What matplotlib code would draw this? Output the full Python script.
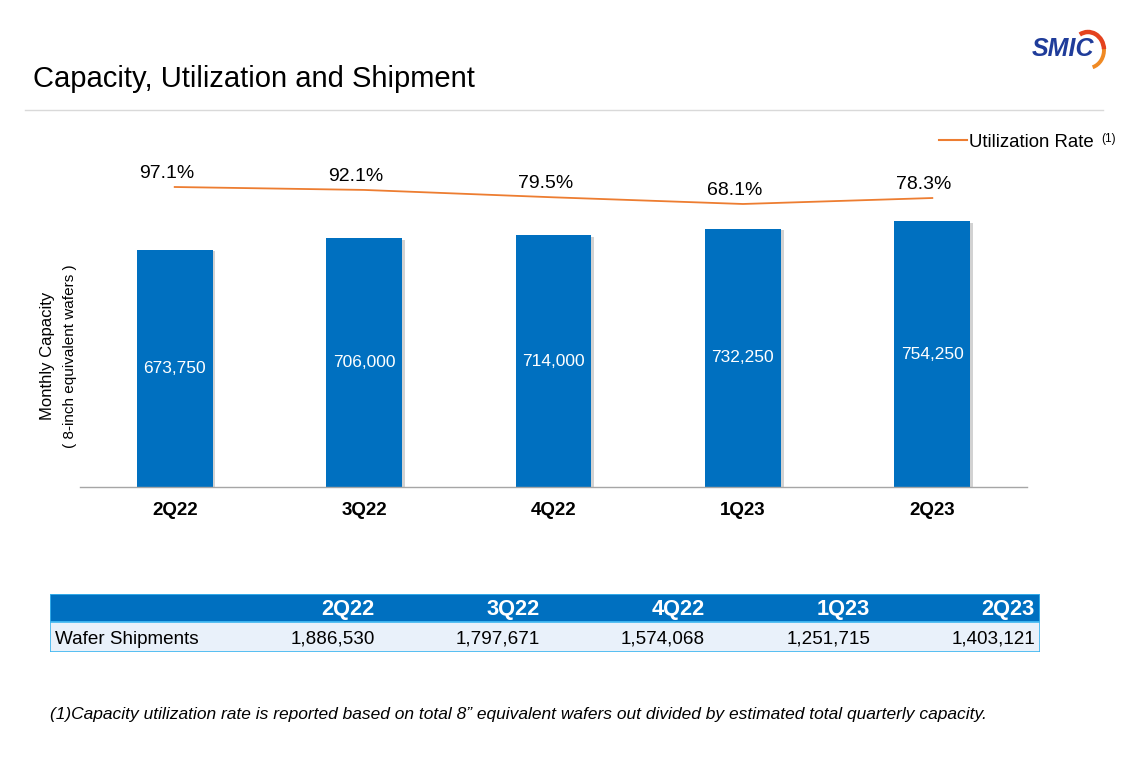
import numpy as np
import matplotlib
matplotlib.use('Agg')
from matplotlib import pyplot as plt
from matplotlib.patches import Rectangle, Arc
from matplotlib.lines import Line2D
import matplotlib.patheffects as pe

plt.rcParams['font.family'] = ['Liberation Sans', 'DejaVu Sans']

### data
quarters = ['2Q22', '3Q22', '4Q22', '1Q23', '2Q23']
capacity = [673750, 706000, 714000, 732250, 754250]
utilization = [97.1, 92.1, 79.5, 68.1, 78.3]
shipments = [1886530, 1797671, 1574068, 1251715, 1403121]

blue = '#0070C0'
orange = '#ED7D31'
W, H = 1121, 784

def fx(px):
    return px / W

def fy(py):
    return 1 - py / H

fig = plt.figure(figsize=(11.21, 7.84), dpi=100)

### header: title, rule, logo
fig.text(fx(33), fy(79), 'Capacity, Utilization and Shipment', fontsize=21,
         va='center', ha='left', color='black')
fig.add_artist(Line2D([fx(25), fx(1103)], [fy(110), fy(110)], color='#D9D9D9', lw=1))
fig.text(fx(1063), fy(49), 'SMIC', fontsize=18, fontweight='heavy', style='italic',
         color='#1F3C9A', ha='center', va='center')
logo = fig.add_axes([fx(1060), fy(76), fx(50), 52 / H])
logo.set_xlim(1060, 1110)
logo.set_ylim(76, 24)
logo.axis('off')
logo.add_patch(Arc((1088, 50), 32, 36, theta1=-5, theta2=75, color='#F08A24', lw=2.8))
logo.add_patch(Arc((1088, 50), 32, 36, theta1=-118, theta2=-3, color='#E4421E', lw=3.2))

### bar chart
ax = fig.add_axes([fx(80), fy(487), fx(947), (487 - 130) / H])
x = np.arange(len(quarters))
bars = ax.bar(x, capacity, width=0.40, color=blue, zorder=2)
for b in bars:
    b.set_path_effects([pe.SimplePatchShadow(offset=(2, -1), shadow_rgbFace='#7F7F7F', alpha=0.35),
                        pe.Normal()])
for i, v in enumerate(capacity):
    ax.text(x[i], v / 2, f'{v:,}', color='white', fontsize=12.5, ha='center', va='center', zorder=3)
ax.set_xlim(-0.5, len(quarters) - 0.5)
ax.set_ylim(0, 1.013e6)
ax.set_xticks(x)
ax.set_xticklabels(quarters, fontsize=13.5, fontweight='bold')
ax.tick_params(axis='x', length=0, pad=11)
ax.set_yticks([])
for s in ['top', 'right', 'left']:
    ax.spines[s].set_visible(False)
ax.spines['bottom'].set_color('#A6A6A6')
ax.spines['bottom'].set_linewidth(1)

fig.text(fx(48), fy(356), 'Monthly Capacity', rotation=90, fontsize=12,
         ha='center', va='center')
fig.text(fx(70), fy(356), '( 8-inch equivalent wafers )', rotation=90, fontsize=11,
         ha='center', va='center')

### utilization line on a second scale
ax2 = ax.twinx()
ax2.set_ylim(-415, 194.4)
ax2.plot(x, utilization, color=orange, lw=1.3, zorder=4)
for i, u in enumerate(utilization):
    ax2.annotate(f'{u}%', (x[i], u), xytext=(-6, 10), textcoords='offset points',
                 fontsize=14, ha='center', va='center')
ax2.axis('off')

leg = fig.legend([Line2D([0], [0], color=orange, lw=1.5)], ['Utilization Rate'],
                 loc='center right', bbox_to_anchor=(fx(1094), fy(142)),
                 frameon=False, fontsize=13.4, handlelength=1.5, handletextpad=0.1,
                 borderpad=0, borderaxespad=0)
fig.text(fx(1101), fy(139), '(1)', fontsize=8.5, ha='left', va='center')

### shipments table
tb = fig.add_axes([fx(50), fy(652), fx(990), 58 / H])
tb.set_xlim(50, 1040)
tb.set_ylim(652, 594)
tb.axis('off')
edge = '#3DB5F0'
tb.add_patch(Rectangle((50, 594), 990, 28, facecolor=blue, edgecolor=edge, lw=1.2))
tb.add_patch(Rectangle((50, 622), 990, 30, facecolor='#E9F1FA', edgecolor=edge, lw=1.2))
col_right = [375, 540, 705, 870, 1035]
for i, q in enumerate(quarters):
    tb.text(col_right[i], 609.5, q, color='white', fontsize=15.7, fontweight='bold',
            ha='right', va='center')
    tb.text(col_right[i], 639, f'{shipments[i]:,}', color='black', fontsize=13.6,
            ha='right', va='center')
tb.text(55, 639, 'Wafer Shipments', color='black', fontsize=13.6, ha='left', va='center')

### footnote
fig.text(fx(50), fy(715),
         '(1)Capacity utilization rate is reported based on total 8\u201d equivalent wafers out '
         'divided by estimated total quarterly capacity.',
         fontsize=12.5, style='italic', ha='left', va='center')

fig.savefig('out.png', dpi=100)
